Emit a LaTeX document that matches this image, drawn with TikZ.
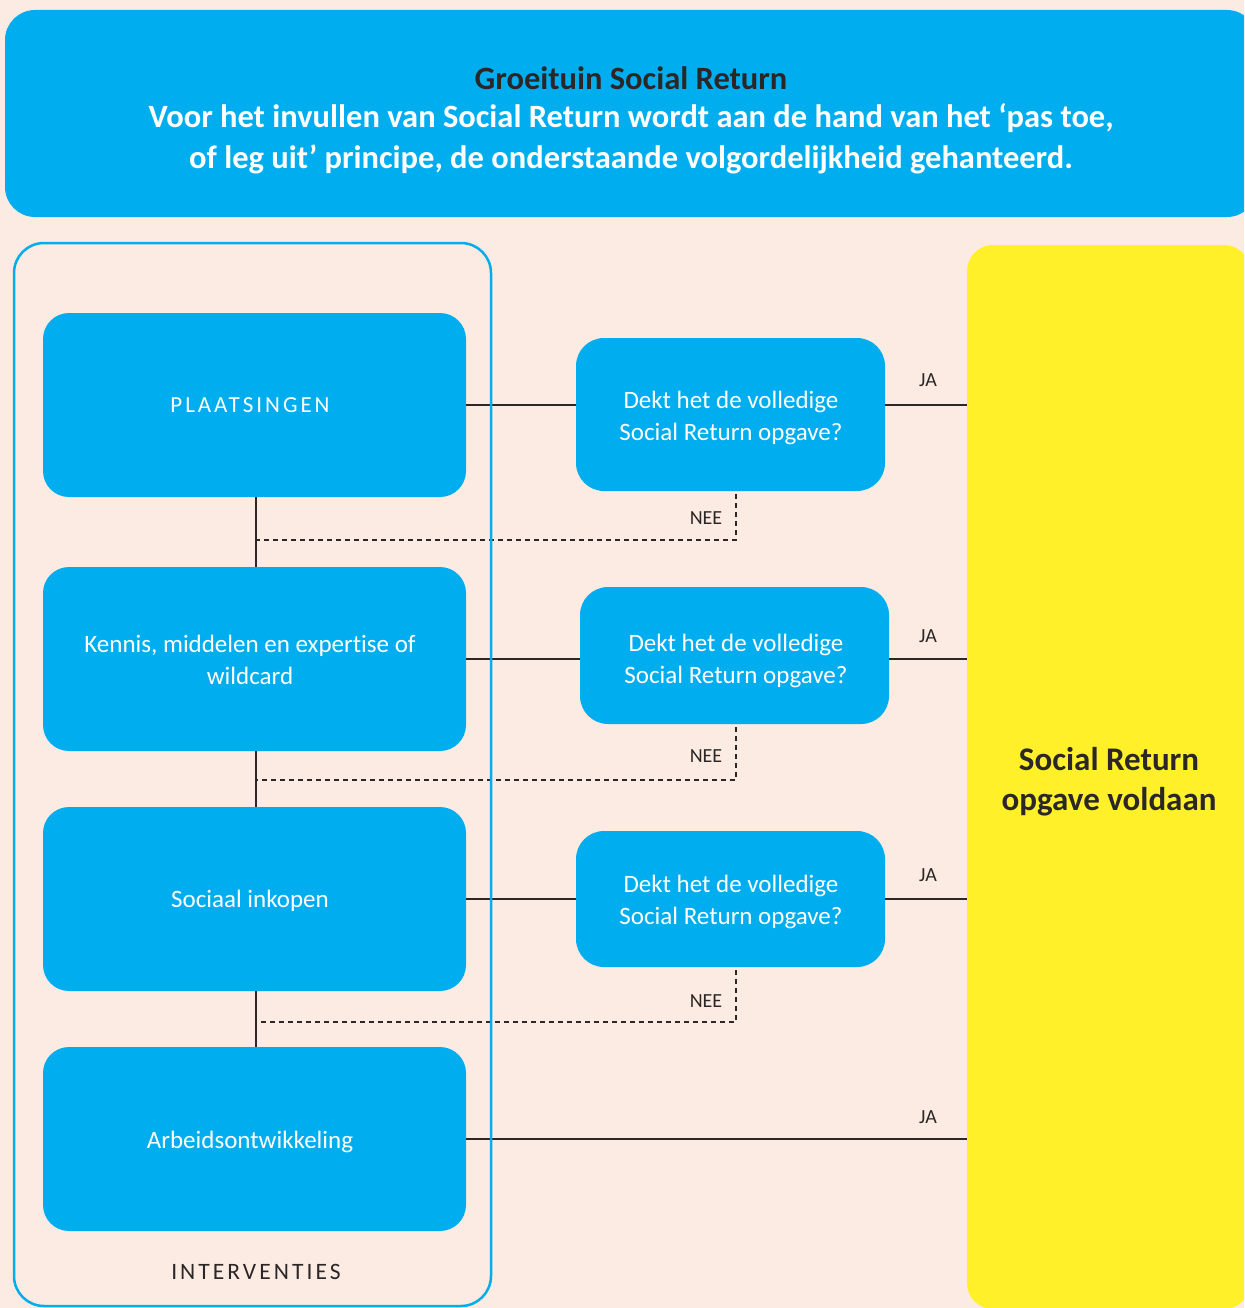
\documentclass[tikz,border=0pt]{standalone}
\usepackage{fontspec}
\setmainfont[Ligatures=NoCommon]{Carlito}
\newfontfamily\spacedfont[LetterSpace=13,Ligatures=NoCommon]{Carlito}
\definecolor{peach}{HTML}{FCEBE2}
\definecolor{rblue}{HTML}{00AEEF}
\definecolor{ryellow}{HTML}{FFF02A}
\definecolor{ink}{HTML}{2B2727}
\tikzset{
  interv/.style={rectangle, rounded corners=26pt, fill=rblue, minimum width=423pt, minimum height=184pt, inner sep=0pt},
  question/.style={rectangle, rounded corners=28pt, fill=rblue, minimum width=309pt, inner sep=0pt},
  boxtext/.style={text=white, inner sep=0pt, align=center, font=\fontsize{25}{32}\selectfont},
  conn/.style={draw=ink, line width=2pt},
  dashconn/.style={draw=ink, line width=1.5pt, dash pattern=on 5pt off 4pt},
  lbl/.style={text=ink, inner sep=0pt, font=\fontsize{20}{22}\selectfont},
}
\begin{document}
\begin{tikzpicture}[x=1pt,y=-1pt]
\useasboundingbox (0,0) rectangle (1244,1308);
\clip (0,0) rectangle (1244,1308);
\fill[peach] (0,0) rectangle (1244,1308);
% banner
\node[rectangle, rounded corners=30pt, fill=rblue, minimum width=1252pt, minimum height=207pt, inner sep=0pt] (banner) at (631,113.5) {};
\node[text=ink, font=\bfseries\fontsize{32.5}{41}\selectfont, inner sep=0pt] (title) at (631,78) {Groeituin Social Return};
\node[text=white, font=\bfseries\fontsize{32.5}{41}\selectfont, align=center, inner sep=0pt] (subtitle) at (631,139) {Voor het invullen van Social Return wordt aan de hand van het ‘pas toe,\\of leg uit’ principe, de onderstaande volgordelijkheid gehanteerd.};
% yellow target
\node[rectangle, rounded corners=26pt, fill=ryellow, minimum width=283pt, minimum height=1064pt, inner sep=0pt] (sr) at (1108.5,777) {};
\node[text=ink, font=\bfseries\fontsize{33}{40}\selectfont, align=center, inner sep=0pt] (srtext) at (1109,782) {Social Return\\opgave voldaan};
% interventions
\node[interv] (p1) at (254.5,405) {};
\node[interv] (p2) at (254.5,659) {};
\node[interv] (p3) at (254.5,899) {};
\node[interv] (p4) at (254.5,1139) {};
\node[boxtext, font=\spacedfont\fontsize{23}{28}\selectfont] (p1t) at (250,405) {PLAATSINGEN};
\node[boxtext] (p2t) at (250,660) {Kennis, middelen en expertise of\\wildcard};
\node[boxtext] (p3t) at (250,901) {Sociaal inkopen};
\node[boxtext] (p4t) at (250,1142) {Arbeidsontwikkeling};
% questions
\node[question, minimum height=153pt] (q1) at (730.5,414.5) {};
\node[question, minimum height=137pt] (q2) at (734.5,655.5) {};
\node[question, minimum height=136pt] (q3) at (730.5,899) {};
\node[boxtext] (q1t) at (731,418) {Dekt het de volledige\\Social Return opgave?};
\node[boxtext] (q2t) at (736,661) {Dekt het de volledige\\Social Return opgave?};
\node[boxtext] (q3t) at (731,902) {Dekt het de volledige\\Social Return opgave?};
% connectors
\draw[conn] (p1.east) -- (p1.east -| q1.west);
\draw[conn] (p1.east -| q1.east) -- (p1.east -| sr.west);
\draw[conn] (p2.east) -- (p2.east -| q2.west);
\draw[conn] (p2.east -| q2.east) -- (p2.east -| sr.west);
\draw[conn] (p3.east) -- (p3.east -| q3.west);
\draw[conn] (p3.east -| q3.east) -- (p3.east -| sr.west);
\draw[conn] (p4.east) -- (p4.east -| sr.west);
\draw[conn] ([xshift=1.5pt]p1.south) -- ([xshift=1.5pt]p2.north);
\draw[conn] ([xshift=1.5pt]p2.south) -- ([xshift=1.5pt]p3.north);
\draw[conn] ([xshift=1.5pt]p3.south) -- ([xshift=1.5pt]p4.north);
\coordinate (n1) at (256,540);
\coordinate (n2) at (256,780);
\coordinate (n3) at (256,1022);
\draw[dashconn] ([xshift=5.5pt,yshift=-3pt]q1.south) |- (n1);
\draw[dashconn] ([xshift=1.5pt,yshift=-3pt]q2.south) |- (n2);
\draw[dashconn] ([xshift=5.5pt,yshift=-3pt]q3.south) |- (n3);
% labels
\node[lbl] (ja1) at (928,380) {JA};
\node[lbl] (ja2) at (928,636) {JA};
\node[lbl] (ja3) at (928,875) {JA};
\node[lbl] (ja4) at (928,1117) {JA};
\node[lbl] (nee1) at (706,518) {NEE};
\node[lbl] (nee2) at (706,756) {NEE};
\node[lbl] (nee3) at (706,1001) {NEE};
% container
\node[rectangle, rounded corners=30pt, draw=rblue, line width=2.5pt, minimum width=477pt, minimum height=1063pt, inner sep=0pt] (cont) at (252.5,774.5) {};
\node[text=ink, font=\spacedfont\fontsize{23.5}{28}\selectfont, inner sep=0pt] (contlbl) at (256,1272) {INTERVENTIES};
\end{tikzpicture}
\end{document}
